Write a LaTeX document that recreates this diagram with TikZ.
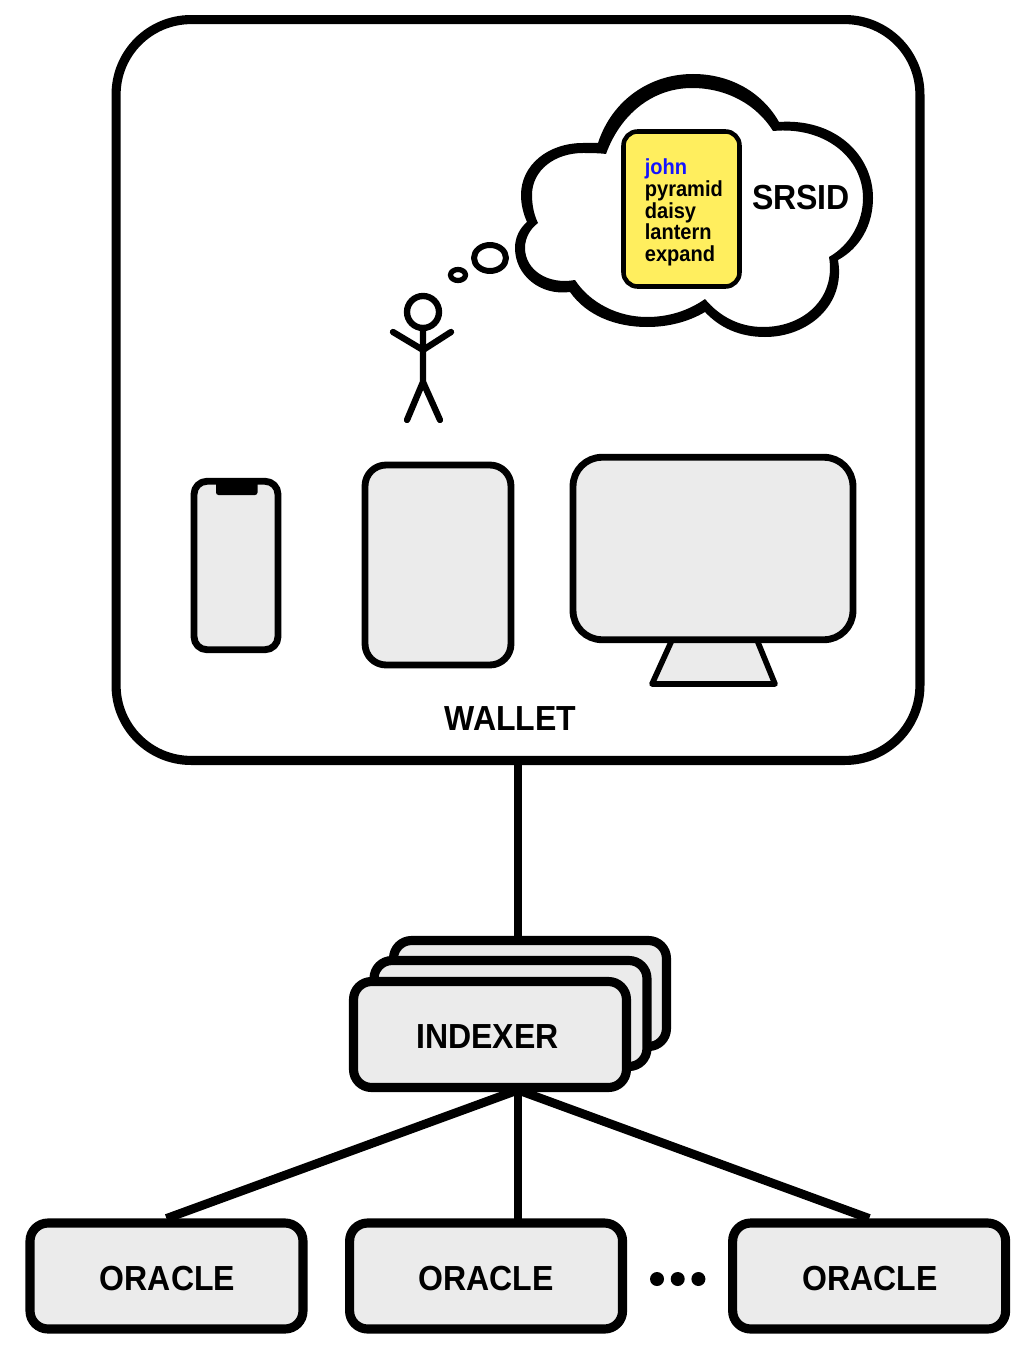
\documentclass[tikz,border=0pt]{standalone}
\usepackage{fontspec}
\setmainfont[FakeStretch=0.92]{Liberation Sans}
\usepackage{tikz}
\usetikzlibrary{positioning, calc}
\definecolor{BoxGrey}{HTML}{EBEBEB}
\definecolor{CardYellow}{HTML}{FFEE5E}
\definecolor{WordBlue}{HTML}{1414FF}

\begin{document}
\begin{tikzpicture}[x=0.02cm, y=-0.02cm, line join=round,
  box/.style={draw, line width=5.2pt, rounded corners=0.36cm, fill=BoxGrey,
              minimum width=5.46cm, minimum height=2.12cm, text height=16.4pt,
              text depth=0pt, font=\fontsize{19.8}{24}\selectfont\bfseries},
  device/.style={draw, line width=3.9pt, fill=BoxGrey},
  tag/.style={font=\fontsize{19.8}{24}\selectfont\bfseries},
  link/.style={line width=5pt},
  stick/.style={line width=3.6pt, line cap=round},
  dot/.style={circle, fill=black, inner sep=0pt, minimum size=0.28cm}]
  \useasboundingbox (0,0) rectangle (1024,1348);

  \node[draw, line width=5.2pt, rounded corners=1.5cm, minimum width=16.08cm,
        minimum height=14.82cm] (wallet) at (518,390) {};
  \node[tag] (wallettag) at (510.5,719) {WALLET};

  % thought cloud, heavier along the top
  \fill[black, even odd rule]
    (598,143) .. controls (612,100) and (650,74) .. (693,74)
    .. controls (730,74) and (762,92) .. (779,122)
    .. controls (835,118) and (873,155) .. (873,198)
    .. controls (873,225) and (860,248) .. (838,260)
    .. controls (846,305) and (808,337) .. (765,337)
    .. controls (740,337) and (720,328) .. (705,312)
    .. controls (688,322) and (668,327) .. (647,327)
    .. controls (615,327) and (586,315) .. (570,292)
    .. controls (540,296) and (515,275) .. (515,248)
    .. controls (515,238) and (519,229) .. (527,222)
    .. controls (523,213) and (521,204) .. (521,195)
    .. controls (521,165) and (548,143) .. (583,143)
    .. controls (588,143) and (593,143) .. (598,143) -- cycle
    (606,154) .. controls (620,115) and (652,88) .. (692,88)
    .. controls (727,88) and (757,105) .. (773,131)
    .. controls (825,126) and (863,158) .. (863,198)
    .. controls (863,222) and (850,245) .. (829,257)
    .. controls (836,297) and (805,327) .. (763,327)
    .. controls (740,327) and (720,317) .. (705,299)
    .. controls (688,311) and (668,317) .. (647,317)
    .. controls (618,317) and (590,303) .. (575,280)
    .. controls (548,285) and (525,270) .. (525,248)
    .. controls (525,238) and (530,229) .. (538,223)
    .. controls (534,215) and (532,205) .. (532,195)
    .. controls (532,170) and (555,153) .. (583,153)
    .. controls (591,153) and (598,153) .. (606,154) -- cycle;
  \draw[line width=3.4pt] (490,258) ellipse (16 and 13);
  \draw[line width=3pt] (458,275) ellipse (7.5 and 5.5);

  \node[draw, line width=2.6pt, rounded corners=0.28cm, fill=CardYellow,
        minimum width=2.32cm, minimum height=3.1cm] (card) at (681.5,209) {};
  \node[anchor=west, inner sep=0pt, align=left,
        font=\fontsize{12.4}{12.3}\selectfont\bfseries] (words) at (644.5,212.5)
    {\textcolor{WordBlue}{john}\\pyramid\\daisy\\lantern\\expand};
  \node[tag] (srsid) at (801,198) {SRSID};

  % stick figure
  \draw[stick] (423,312) circle (16);
  \draw[stick] (423,328) -- (423,382) -- (407,420);
  \draw[stick] (423,382) -- (440,420);
  \draw[stick] (393,332) -- (423,350) -- (451,332);

  % devices
  \node[device, rounded corners=0.26cm, minimum width=1.68cm, minimum height=3.37cm]
    (phone) at (236,565.5) {};
  \fill[rounded corners=0.05cm] (216,481) -- (216,495) -- (257.5,495) -- (257.5,481) -- cycle;
  \node[device, rounded corners=0.42cm, minimum width=2.92cm, minimum height=4cm]
    (tablet) at (438,565) {};
  \draw[device, line width=3.2pt] (672,640) -- (652,684) -- (775,684) -- (757,640) -- cycle;
  \node[device, rounded corners=0.58cm, minimum width=5.6cm, minimum height=3.65cm]
    (monitor) at (713,548.5) {};

  % indexer stack, back to front
  \node[box] (indexerc) at (530,993.5) {};
  \node[box] (indexerb) at (510.5,1013.5) {};
  \node[box] (indexera) at (490,1034.5) {INDEXER\kern0.1cm};

  % oracles
  \node[box] (oraclea) at (166.5,1276) {\hspace{0.04cm}ORACLE};
  \node[box, right=0.75cm of oraclea] (oracleb) {ORACLE};
  \node[box, right=2.02cm of oracleb] (oraclec) {\hspace{0.04cm}ORACLE};
  \node[dot] (dota) at (657,1279) {};
  \node[dot, right=0.12cm of dota] (dotb) {};
  \node[dot, right=0.12cm of dotb] (dotc) {};

  % connectors meet the stack off centre
  \coordinate (indexertop) at (518,942);
  \coordinate (indexerfoot) at (518,1090);
  \coordinate (oracletop) at (518,1221);
  \draw[link] (wallet.south) -- (indexertop);
  \draw[link] (indexerfoot) -- (oracletop);
  \draw[link] (indexerfoot) -- (oraclea.north);
  \draw[link] (indexerfoot) -- (oraclec.north);
\end{tikzpicture}
\end{document}
